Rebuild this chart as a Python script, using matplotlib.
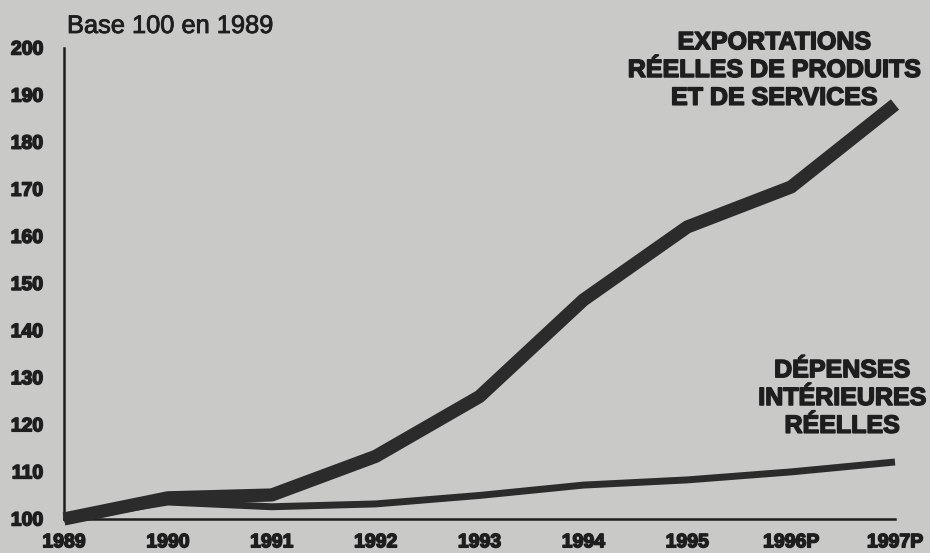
import matplotlib
matplotlib.use("Agg")
import matplotlib.pyplot as plt
import matplotlib.patheffects as pe

years = ["1989", "1990", "1991", "1992", "1993", "1994", "1995", "1996P", "1997P"]
exports = [100, 104.5, 105.1, 113.3, 126, 146.5, 162, 170.5, 188]
domestic = [100, 103.6, 102.6, 103.2, 105, 107.2, 108.3, 110, 112.1]
yticks = [100, 110, 120, 130, 140, 150, 160, 170, 180, 190, 200]

bg = "#c9c9c7"
ink = "#1e1e1e"
line_col = "#2b2b2b"

heavy = [pe.withStroke(linewidth=1.1, foreground=ink)]
medium = [pe.withStroke(linewidth=0.6, foreground=ink)]

fig = plt.figure(figsize=(9.3, 5.53), dpi=100, facecolor=bg)
ax = fig.add_axes([64/930, 34/553, (895-64)/930, (519-48)/553])
ax.set_facecolor(bg)

x = list(range(len(years)))
ax.plot(x, exports, color=line_col, lw=9.5, solid_capstyle="butt", solid_joinstyle="round", clip_on=False, zorder=3)
ax.plot(x, domestic, color=line_col, lw=5, solid_capstyle="butt", solid_joinstyle="round", clip_on=False, zorder=4)

ax.set_xlim(0, 8)
ax.set_ylim(100, 200)
ax.set_xticks(x)
ax.set_xticklabels(years)
ax.set_yticks(yticks)
for s in ["top", "right"]:
    ax.spines[s].set_visible(False)
for s in ["left", "bottom"]:
    ax.spines[s].set_color(ink)
    ax.spines[s].set_linewidth(1.8)
ax.tick_params(axis="both", length=0, colors=ink)
ax.tick_params(axis="y", pad=15)
ax.tick_params(axis="x", pad=11)
for lab in ax.get_xticklabels() + ax.get_yticklabels():
    lab.set_fontfamily("Liberation Sans")
    lab.set_fontweight("bold")
    lab.set_fontsize(14)
    lab.set_path_effects(heavy)

fig.text(67/930, 1 - 26/553, "Base 100 en 1989", ha="left", va="center",
         fontsize=18.3, family="Liberation Sans", color=ink, path_effects=medium)

fig.text(774/930, 1 - 70/553, "EXPORTATIONS\nRÉELLES DE PRODUITS\nET DE SERVICES",
         ha="center", va="center", fontsize=18, fontweight="bold",
         family="Liberation Sans", color=ink, linespacing=1.2, path_effects=heavy)
fig.text(842/930, 1 - 398/553, "DÉPENSES\nINTÉRIEURES\nRÉELLES",
         ha="center", va="center", fontsize=18, fontweight="bold",
         family="Liberation Sans", color=ink, linespacing=1.2, path_effects=heavy)

fig.savefig("out.png", dpi=100, facecolor=bg)
